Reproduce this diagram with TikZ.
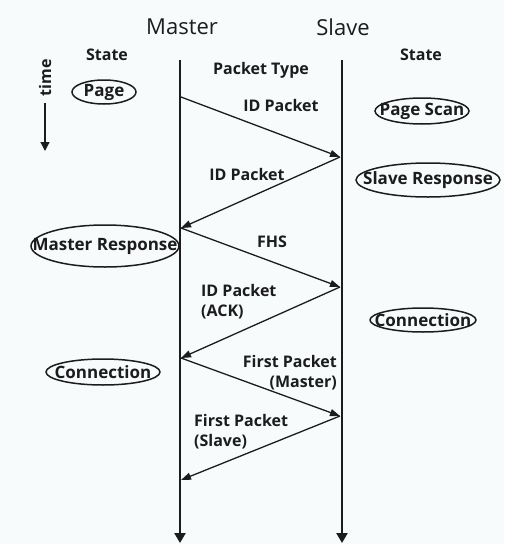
\documentclass[tikz,border=0pt]{standalone}
\usepackage{fontspec}
\setmainfont{Open Sans}
\usepackage{tikz}
\usetikzlibrary{shapes,arrows.meta,positioning}
\definecolor{paper}{HTML}{F8FBFC}
\definecolor{ink}{HTML}{1C1C1C}

\begin{document}
\begin{tikzpicture}[x=1pt,y=-1pt,
              life/.style={line width=2.8pt, ink, -{Triangle[length=10pt,width=11pt]}},
              msg/.style={line width=1.3pt, ink, -{Triangle[length=10pt,width=7pt]}},
              state/.style={inner sep=0pt, text=ink, font=\fontsize{17}{19}\selectfont\bfseries},
              ring/.style={draw=ink, line width=1.5pt},
              head/.style={font=\fontsize{22}{26}\selectfont, text=ink},
              lbl/.style={font=\fontsize{16}{20}\selectfont\bfseries, text=ink, inner sep=0pt},
             ]
\fill[paper] (0,0) rectangle (504,544);
\useasboundingbox (0,0) rectangle (504,544);

% lifelines
\node[head] (master) at (182,27) {Master};
\node[head] (slave) at (343,27) {Slave};
\coordinate (mtop) at (180,60);
\coordinate (mbot) at (180,543);
\coordinate (stop) at (342,60);
\coordinate (sbot) at (342,543);
\draw[life] (mtop) -- (mbot);
\draw[life] (stop) -- (sbot);

% column titles
\node[lbl] (lstate) at (107,55) {State};
\node[lbl] (rstate) at (421,55) {State};
\node[lbl] (ptype) at (261,70) {Packet Type};
\node[lbl, rotate=90] (time) at (45,78) {time};
\coordinate (ttop) at (45,103);
\coordinate (tbot) at (45,151);
\draw[line width=1.3pt, ink, -{Triangle[length=9pt,width=9pt]}] (ttop) -- (tbot);

% states
\node[state] (page) at (104,92) {Page};
\draw[ring] (page.center) ellipse (32 and 12);
\node[state] (pscan) at (422,111) {Page Scan};
\draw[ring] (pscan.center) ellipse (47 and 13);
\node[state] (sresp) at (428,180) {Slave Response};
\draw[ring] (sresp.center) ellipse (72 and 17);
\node[state] (mresp) at (105,246) {Master Response};
\draw[ring] (mresp.center) ellipse (74 and 21);
\node[state] (rconn) at (423,320) {Connection};
\draw[ring] (rconn.center) ellipse (53 and 12);
\node[state] (lconn) at (103,372) {Connection};
\draw[ring] (lconn.center) ellipse (57 and 13);

% message points
\coordinate (m1) at (181,97);
\coordinate (s1) at (340,157);
\coordinate (m2) at (181,228);
\coordinate (s2) at (340,287);
\coordinate (m3) at (181,358);
\coordinate (s3) at (340,416);
\coordinate (m4) at (181,480);

\draw[msg] (m1) -- (s1);
\draw[msg] (s1) -- (m2);
\draw[msg] (m2) -- (s2);
\draw[msg] (s2) -- (m3);
\draw[msg] (m3) -- (s3);
\draw[msg] (s3) -- (m4);

% packet labels
\node[lbl] (id1) at (281,105) {ID Packet};
\node[lbl] (id2) at (247,174) {ID Packet};
\node[lbl] (fhs) at (272,242) {FHS};
\node[lbl, anchor=north west, align=left] (ack) at (201,284) {ID Packet\\(ACK)};
\node[lbl, anchor=north east, align=right] (fpm) at (337,355) {First Packet\\(Master)};
\node[lbl, anchor=north west, align=left] (fps) at (194,414) {First Packet\\(Slave)};
\end{tikzpicture}
\end{document}
